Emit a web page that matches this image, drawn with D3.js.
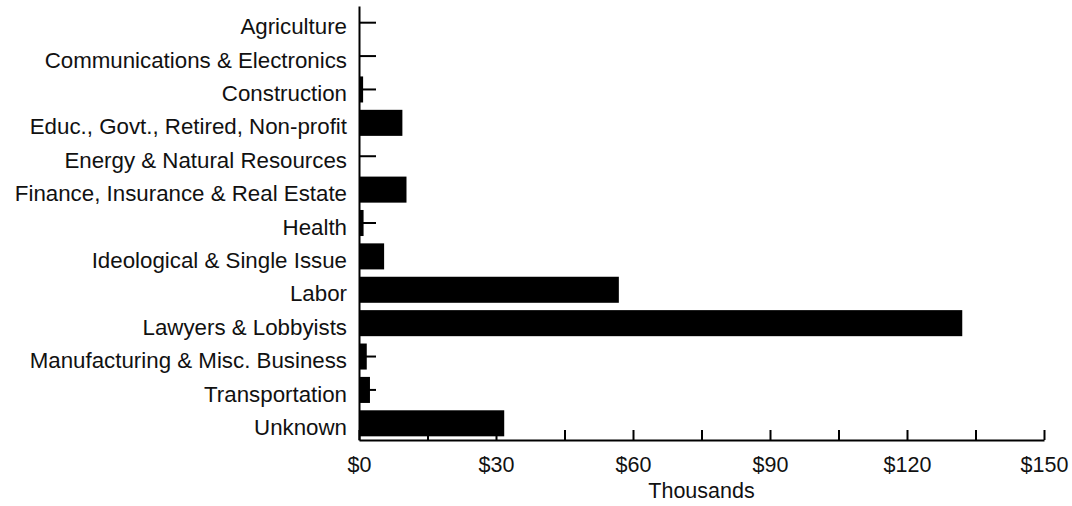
<!DOCTYPE html>
<html>
<head>
<meta charset="utf-8">
<script src="https://cdn.jsdelivr.net/npm/d3@7"></script>
<style>
  body { margin: 0; background: #fff; }
  text { font-family: "Liberation Sans", Arial, sans-serif; }
</style>
</head>
<body>
<div id="chart"></div>
<script>
// industry categories, top to bottom
const sectors = [
    "Agriculture",
    "Communications & Electronics",
    "Construction",
    "Educ., Govt., Retired, Non-profit",
    "Energy & Natural Resources",
    "Finance, Insurance & Real Estate",
    "Health",
    "Ideological & Single Issue",
    "Labor",
    "Lawyers & Lobbyists",
    "Manufacturing & Misc. Business",
    "Transportation",
    "Unknown"
];

// contributions in thousands of dollars
const amounts = [0, 0, 0.9, 9.5, 0, 10.4, 1.0, 5.5, 56.9, 132.1, 1.7, 2.4, 31.8];

// x axis ticks
const xTicks = [0, 15, 30, 45, 60, 75, 90, 105, 120, 135, 150];
const xLabelEvery = 30;
const xTitle = "Thousands";

const width = 1072;
const height = 506;
const margin = { top: 6, right: 28, bottom: 66, left: 359 };
const fontSize = 21.5;

const data = sectors.map((s, i) => ({ sector: s, value: amounts[i] }));

const svg = d3
    .select("#chart")
    .append("svg")
    .attr("width", width)
    .attr("height", height);

const x = d3
    .scaleLinear()
    .domain([0, 150])
    .range([margin.left, width - margin.right]);

const y = d3
    .scaleBand()
    .domain(sectors)
    .range([margin.top, height - margin.bottom])
    .paddingInner(0.22)
    .paddingOuter(0.11);

// bars
svg
    .append("g")
    .selectAll("rect")
    .data(data)
    .join("rect")
    .attr("x", x(0))
    .attr("y", (d) => y(d.sector))
    .attr("width", (d) => x(d.value) - x(0))
    .attr("height", y.bandwidth())
    .attr("fill", "#000");

// y axis, ticks point inward
const yAxis = svg
    .append("g")
    .attr("transform", `translate(${x(0)},0)`)
    .call(d3.axisLeft(y).tickSizeInner(-17).tickSizeOuter(0).tickPadding(12));

yAxis.selectAll("text")
    .attr("font-size", 22.3)
    .attr("dy", "0.52em")
    .attr("fill", "#111")
    .attr("font-family", "Liberation Sans, Arial, sans-serif");

// x axis, ticks point up
const xAxis = svg
    .append("g")
    .attr("transform", `translate(0,${height - margin.bottom})`)
    .call(
        d3.axisBottom(x)
            .tickValues(xTicks)
            .tickSizeInner(-10)
            .tickSizeOuter(0)
            .tickPadding(17)
            .tickFormat((d) => (d % xLabelEvery === 0 ? "$" + d : ""))
    );

xAxis.selectAll("text").attr("font-size", fontSize).attr("fill", "#111").attr("font-family", "Liberation Sans, Arial, sans-serif");

svg.selectAll(".domain, .tick line").attr("stroke", "#000").attr("stroke-width", 2);

// axis title
svg
    .append("text")
    .attr("x", (x(0) + x(150)) / 2)
    .attr("y", height - 8)
    .attr("text-anchor", "middle")
    .attr("font-size", fontSize)
    .attr("fill", "#111")
    .text(xTitle);
</script>
</body>
</html>
